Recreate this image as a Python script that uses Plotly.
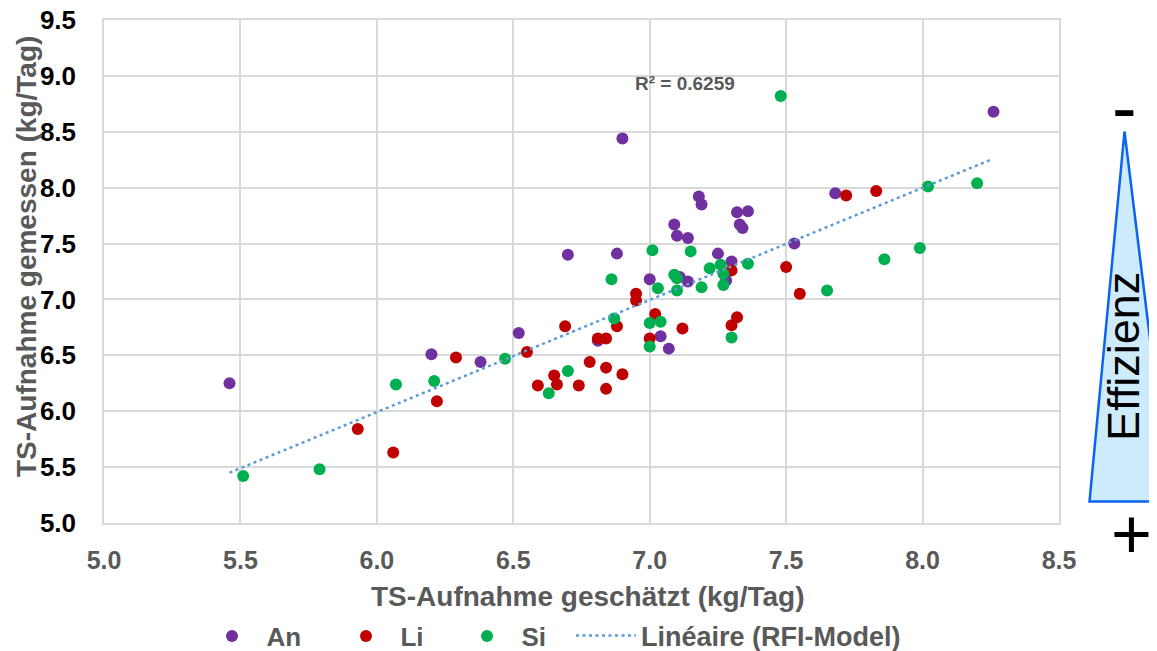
import plotly.graph_objects as go

# ---- data ----
an_x = [5.46, 6.20, 6.38, 6.52, 6.70, 6.90, 6.88, 6.81, 7.00, 7.04, 7.07, 7.09, 7.10, 7.14,
        7.18, 7.19, 7.11, 7.14, 7.25, 7.30, 7.28, 7.32, 7.36, 7.33, 7.34, 7.53, 7.68, 8.26]
an_y = [6.25, 6.51, 6.44, 6.70, 7.40, 8.44, 7.41, 6.63, 7.18, 6.67, 6.56, 7.67, 7.57, 7.55,
        7.92, 7.85, 7.20, 7.16, 7.41, 7.34, 7.17, 7.78, 7.79, 7.67, 7.64, 7.50, 7.95, 8.68]

li_x = [5.93, 6.06, 6.22, 6.29, 6.55, 6.69, 6.59, 6.65, 6.66, 6.74, 6.78, 6.81, 6.84, 6.84,
        6.84, 6.88, 6.90, 6.95, 6.95, 7.00, 7.02, 7.12, 7.30, 7.32, 7.30, 7.50, 7.55, 7.72, 7.83]
li_y = [5.84, 5.63, 6.09, 6.48, 6.53, 6.76, 6.23, 6.32, 6.24, 6.23, 6.44, 6.65, 6.65, 6.39,
        6.20, 6.76, 6.33, 7.05, 6.99, 6.65, 6.87, 6.74, 7.26, 6.84, 6.77, 7.29, 7.05, 7.93, 7.97]

si_x = [5.51, 5.79, 6.07, 6.21, 6.47, 6.63, 6.70, 6.86, 6.87, 7.00, 7.00, 7.04, 7.01, 7.03,
        7.09, 7.10, 7.10, 7.15, 7.19, 7.22, 7.26, 7.27, 7.27, 7.36, 7.30, 7.48, 7.65, 7.86,
        7.99, 8.02, 8.20]
si_y = [5.42, 5.48, 6.24, 6.27, 6.47, 6.16, 6.36, 7.18, 6.83, 6.58, 6.79, 6.80, 7.44, 7.10,
        7.22, 7.19, 7.08, 7.43, 7.11, 7.28, 7.31, 7.23, 7.13, 7.32, 6.66, 8.82, 7.08, 7.36,
        7.46, 8.01, 8.04]

trend_x = [5.46, 8.25]
trend_y = [5.45, 8.25]
r2_label = "R² = 0.6259"

series_names = ["An", "Li", "Si"]
trend_name = "Linéaire (RFI-Model)"
x_title = "TS-Aufnahme geschätzt (kg/Tag)"
y_title = "TS-Aufnahme gemessen (kg/Tag)"

# ---- styling ----
FONT = "Liberation Sans, Arial, sans-serif"
GRAY = "#595959"
GRID = "#D9D9D9"
colors = ["#7030A0", "#C00000", "#00B050"]

# the page puts the figure 8px from the top-left corner; compensate in the margins
OFF = 8
W, H = 1157, 651
PL, PT, PW, PH = 104, 20, 955, 503          # plot area in screen pixels
L, T = PL - OFF, PT - OFF
R, B = W - L - PW, H - T - PH


def px(xp):
    return (xp - PL) / PW


def py(yp):
    return (PT + PH - yp) / PH


NB = "\u00a0\u00a0"
legend_ids = ["legend", "legend2", "legend3"]

fig = go.Figure()
for name, xs, ys, c, lg in zip(series_names, [an_x, li_x, si_x], [an_y, li_y, si_y], colors,
                               legend_ids):
    fig.add_trace(go.Scatter(x=xs, y=ys, mode="markers", name=NB + name, legend=lg,
                             marker=dict(color=c, size=12, line=dict(width=0))))

fig.add_trace(go.Scatter(x=trend_x, y=trend_y, mode="lines", name=trend_name, legend="legend4",
                         line=dict(color="#5B9BD5", width=2.5, dash="3px,3.5px")))

axis_common = dict(showgrid=True, gridcolor=GRID, gridwidth=1.5, zeroline=False,
                   showline=True, mirror=True, linecolor=GRID, linewidth=1.5,
                   ticks="", dtick=0.5, tickformat=".1f", automargin=False,
                   ticklabeloverflow="allow")


def legend_at(xpix, size=26, **kw):
    return dict(orientation="h", x=px(xpix), xanchor="left", y=py(636), yanchor="middle",
                font=dict(family=FONT, size=size, color=GRAY, weight="bold"),
                bgcolor="rgba(0,0,0,0)", **kw)


fig.update_layout(
    width=W, height=H,
    margin=dict(l=L, r=R, t=T, b=B, autoexpand=False),
    paper_bgcolor="white", plot_bgcolor="white",
    font=dict(family=FONT, color=GRAY),
    xaxis=dict(range=[5, 8.5], **axis_common,
               tickfont=dict(family=FONT, size=25, color=GRAY, weight="bold"),
               ticklabelstandoff=14),
    yaxis=dict(range=[5, 9.5], **axis_common,
               tickfont=dict(family=FONT, size=26, color="#000000", weight="bold"),
               ticklabelstandoff=21),
    legend=legend_at(212),
    legend2=legend_at(346),
    legend3=legend_at(467),
    legend4=legend_at(571, size=27, itemwidth=60),
    showlegend=True,
)

# axis titles
fig.add_annotation(x=px(587.5), y=py(596), xref="paper", yref="paper", text=x_title,
                   showarrow=False, xanchor="center", yanchor="middle",
                   font=dict(family=FONT, size=28, color=GRAY, weight="bold"))
fig.add_annotation(x=px(26), y=py(257), xref="paper", yref="paper", text=y_title,
                   showarrow=False, xanchor="center", yanchor="middle", textangle=-90,
                   font=dict(family=FONT, size=28, color=GRAY, weight="bold"))

# R^2 label
fig.add_annotation(x=px(684.5), y=py(83), xref="paper", yref="paper", text=r2_label,
                   showarrow=False, xanchor="center", yanchor="middle",
                   font=dict(family=FONT, size=19, color=GRAY, weight="bold"))

# Efficiency triangle
apex = (1124.5, 131.5)
bl = (1089.5, 501.5)
br = (1170, 501.5)
path = "M {} {} L {} {} L {} {} Z".format(px(apex[0]), py(apex[1]), px(bl[0]), py(bl[1]),
                                         px(br[0]), py(br[1]))
fig.add_shape(type="path", path=path, xref="paper", yref="paper",
              fillcolor="#CDEBFB", line=dict(color="#0A64F0", width=2.5), layer="above")

fig.add_annotation(x=px(1123), y=py(357), xref="paper", yref="paper", text="Effizienz",
                   textangle=-90, showarrow=False, xanchor="center", yanchor="middle",
                   font=dict(family=FONT, size=45, color="#000000"))
fig.add_annotation(x=px(1124), y=py(107), xref="paper", yref="paper", text="-",
                   showarrow=False, xanchor="center", yanchor="middle",
                   font=dict(family=FONT, size=74, color="#000000"))
fig.add_annotation(x=px(1131), y=py(534), xref="paper", yref="paper", text="+",
                   showarrow=False, xanchor="center", yanchor="middle",
                   font=dict(family=FONT, size=70, color="#000000"))

fig.write_html("out.html")
